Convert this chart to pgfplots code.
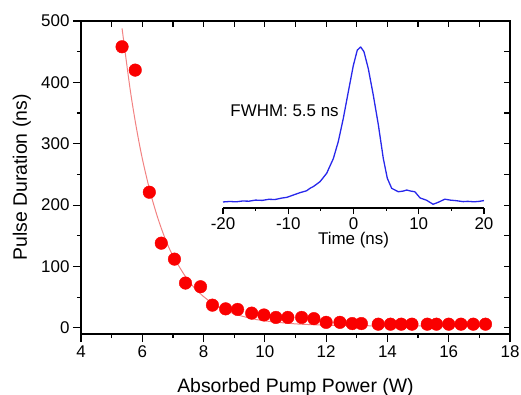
\documentclass[border=0pt]{standalone}
\usepackage{fontspec}
\setmainfont{Liberation Sans}
\usepackage{pgfplots}
\pgfplotsset{compat=1.18}
\definecolor{fitred}{RGB}{242,130,130}
\definecolor{ptred}{RGB}{250,0,0}
\definecolor{insetblue}{RGB}{40,40,235}
\begin{document}
\begin{tikzpicture}
\path[use as bounding box] (-81bp,-61bp) rectangle (440bp,334bp);
\begin{axis}[at={(0bp,0bp)}, anchor=south west, scale only axis,
  width=429bp, height=313bp,
  xmin=4, xmax=18, ymin=-10, ymax=500,
  xtick={4,6,...,18}, minor xtick={5,7,...,17},
  ytick={0,100,...,500}, minor ytick={50,150,...,450},
  xtick pos=left, ytick pos=left, tick align=outside,
  major tick length=8bp, minor tick length=4bp,
  axis line style={line width=1.3bp},
  every tick/.style={black, line width=1.2bp},
  tick label style={font=\fontsize{17}{20}\selectfont},
  /pgf/number format/assume math mode=true,
  xlabel={Absorbed Pump Power (W)},
  ylabel={Pulse Duration (ns)},
  label style={font=\fontsize{19.5}{22}\selectfont},
  xlabel style={at={(rel axis cs:0.5,-0.1853)}, anchor=base},
  ylabel style={at={(rel axis cs:-0.1259,0.5)}, anchor=base},
]
\addplot[fitred, line width=1bp, smooth] coordinates {
(5.34,488) (5.6,390) (5.8,328) (6.0,276) (6.25,223) (6.5,180) (6.75,145)
(7.0,117.5) (7.5,77) (8.0,51) (8.5,34) (9.0,23) (9.5,16) (10,11.4)
(11,6.5) (12,4.5) (13,3.6) (14,3.3) (15,3.1) (16,3.0) (17.2,3.0)};
\addplot[only marks, mark=*, mark size=6.3bp, ptred, mark options={draw=ptred, fill=ptred}] coordinates {
(5.34,458) (5.77,420) (6.23,221) (6.62,138) (7.05,112) (7.41,73) (7.9,67)
(8.29,37) (8.72,31) (9.11,30) (9.57,24) (9.97,21) (10.36,17) (10.75,17)
(11.2,17) (11.6,15) (12.0,9) (12.45,9) (12.85,7) (13.15,7) (13.7,6)
(14.1,6) (14.45,6) (14.8,6) (15.3,6) (15.6,6) (16.0,6) (16.4,6)
(16.8,6) (17.2,6)};
\end{axis}
\begin{axis}[at={(0bp,0bp)}, anchor=south west, scale only axis,
  width=429bp, height=313bp,
  xmin=4, xmax=18, ymin=-10, ymax=500,
  xtick={4,5,...,18}, ytick={0,50,...,500},
  xticklabels={}, yticklabels={},
  xtick pos=right, ytick pos=right, tick align=inside,
  major tick length=6bp,
  axis line style={line width=1.3bp},
  every tick/.style={black, line width=1.2bp},
]
\end{axis}
\begin{axis}[at={(142bp,126bp)}, anchor=south west, scale only axis,
  width=261bp, height=161bp,
  xmin=-20, xmax=20, ymin=-0.039, ymax=1,
  axis line style={draw=none},
  ytick=\empty, yticklabels={},
  xtick={-20,-10,...,20}, minor xtick={-15,-5,5,15},
  xtick pos=left,
  tick align=outside, major tick length=6bp, minor tick length=3bp,
  every tick/.style={black, line width=1.1bp},
  tick label style={font=\fontsize{17}{20}\selectfont},
  /pgf/number format/assume math mode=true,
  xlabel={Time (ns)},
  label style={font=\fontsize{17}{20}\selectfont},
  xlabel style={at={(rel axis cs:0.5,-0.2298)}, anchor=base},
  clip=false,
]
\draw[black, line width=1.2bp] (rel axis cs:0,0) -- (rel axis cs:1,0);
\addplot[insetblue, line width=1.3bp, line join=round] coordinates {
(-20,0) (-19,0.003) (-18,0.001) (-17,0.006) (-16,0.005) (-15,0.012) (-14,0.010)
(-13,0.017) (-12,0.016) (-11,0.025) (-10.2,0.03) (-9.2,0.045) (-8.2,0.06)
(-7.2,0.072) (-6.6,0.09) (-6.16,0.099) (-5.13,0.131) (-4.11,0.185) (-3.09,0.28)
(-2.33,0.39) (-1.56,0.54) (-0.8,0.71) (-0.03,0.88) (0.58,0.98) (1.1,1.0)
(1.6,0.97) (2.27,0.86) (3.03,0.69) (3.8,0.50) (4.57,0.28) (5.18,0.153)
(5.85,0.088) (6.87,0.066) (7.6,0.07) (8.15,0.077) (8.8,0.07) (9.4,0.066)
(10.2,0.026) (11.2,0.011) (12.2,-0.015) (13.0,-0.002) (14.0,0.018) (14.8,0.012)
(15.8,0.008) (16.8,0.002) (17.5,0.004) (18.5,0.001) (19.3,0.004) (20,0.009)};
\node[anchor=west, font=\fontsize{17}{20}\selectfont] at (axis cs:-19.4,0.59) {FWHM: 5.5 ns};
\end{axis}
\end{tikzpicture}
\end{document}
